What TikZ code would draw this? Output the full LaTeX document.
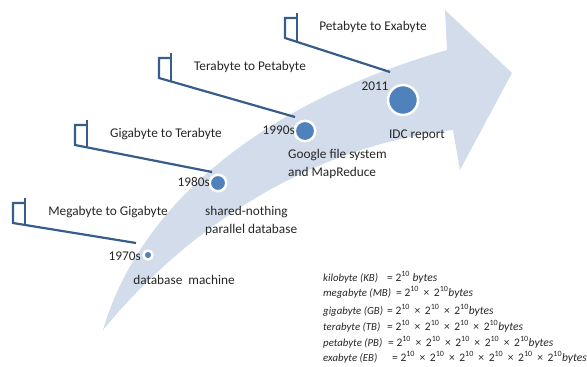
\documentclass[tikz,border=0pt]{standalone}
\usepackage{fontspec}
\setmainfont{Carlito}
\usetikzlibrary{calc}
\definecolor{BandBlue}{RGB}{211, 220, 234}
\definecolor{DotBlue}{RGB}{79, 129, 189}
\definecolor{LineBlue}{RGB}{56, 93, 138}
\definecolor{TextGray}{RGB}{38, 38, 38}
\newcommand{\pw}{2\textsuperscript{10}}
\newcommand{\tms}{\hspace{0.4em}×\hspace{0.4em}}

\begin{document}
\begin{tikzpicture}[x=1pt, y=-1pt,
    tag/.style={font=\fontsize{13.3}{18}\selectfont, text=TextGray, inner sep=0pt},
    yeardot/.style={circle, fill=DotBlue, draw=white, line width=2.5pt, inner sep=0pt},
    callout/.style={LineBlue, line width=2.2pt},
    unitname/.style={font=\fontsize{10.8}{13}\selectfont\itshape, text=TextGray, inner sep=0pt, anchor=base west},
    unitval/.style={font=\fontsize{11.5}{13}\selectfont, text=TextGray, inner sep=0pt, anchor=base west}]
            \useasboundingbox (0,0) rectangle (587,367);

            % Curved band ending in an arrow head
            \fill[BandBlue] (103,330) .. controls (135,220) and (240,110) .. (447,50)
                -- (445,10) -- (512,73) -- (460,170) -- (453,130)
                .. controls (280,150) and (160,260) .. (103,330) -- cycle;

            % Milestones on the band
            \node[yeardot, minimum size=9pt] (d1970) at (148,255) {};
            \node[yeardot, minimum size=16.5pt] (d1980) at (218,183) {};
            \node[yeardot, minimum size=20.5pt] (d1990) at (305,131) {};
            \node[yeardot, minimum size=30pt] (d2011) at (403,100) {};

            % Years and events
            \node[tag, anchor=east] (y1970) at (141,256) {1970s};
            \node[tag] (e1970) at (184,280) {database\ \ machine};
            \node[tag, anchor=east] (y1980) at (210,182) {1980s};
            \node[tag, anchor=west, align=left] (e1980) at (205,221) {shared-nothing\\parallel database};
            \node[tag, anchor=east] (y1990) at (295,130) {1990s};
            \node[tag, anchor=west, align=left] (e1990) at (288,164) {Google file system\\and MapReduce};
            \node[tag] (y2011) at (375,86) {2011};
            \node[tag] (e2011) at (417,135) {IDC report};

            % Callouts: bar, box corner, line end, label
            \foreach \nm/\lx/\ty/\by/\ex/\ey/\tx/\txt in {
                mb/13/203/223/136/243/108/{Megabyte to Gigabyte},
                gb/75/125/145/212/172/166/{Gigabyte to Terabyte},
                tb/159/58/78/295/117/250/{Terabyte to Petabyte},
                pb/285/18/38/390/72/373/{Petabyte to Exabyte}} {
                \coordinate (\nm-top) at (\lx,\ty);
                \coordinate (\nm-corner) at (\lx,\by);
                \coordinate (\nm-bar) at (\lx+12,\ty-5);
                \coordinate (\nm-end) at (\ex,\ey);
                \draw[callout] (\nm-bar) -- ($(\nm-bar)+(0,\by-\ty+8)$);
                \draw[callout] ($(\nm-top)+(12,0)$) -- (\nm-top) -- (\nm-corner) -- (\nm-end);
                \node[tag] (\nm-label) at (\tx,\ty+9) {\txt};
            }

            % Units of data size
            \foreach \nm/\lbl/\fx/\frm/\yy in {
                kb/{kilobyte (KB)}/387/{= \pw\ \textit{bytes}}/281,
                mb/{megabyte (MB)}/396/{= \pw\tms\pw\textit{bytes}}/296,
                gb/{gigabyte (GB)}/387/{= \pw\tms\pw\tms\pw\textit{bytes}}/314,
                tb/{terabyte (TB)}/387/{= \pw\tms\pw\tms\pw\tms\pw\textit{bytes}}/330,
                pb/{petabyte (PB)}/388/{= \pw\tms\pw\tms\pw\tms\pw\tms\pw\textit{bytes}}/346,
                eb/{exabyte (EB)}/392/{= \pw\tms\pw\tms\pw\tms\pw\tms\pw\tms\pw\textit{bytes}}/361} {
                \node[unitname] (\nm-name) at (323,\yy) {\lbl};
                \node[unitval] (\nm-val) at (\fx,\yy) {\frm};
            }
\end{tikzpicture}
\end{document}
